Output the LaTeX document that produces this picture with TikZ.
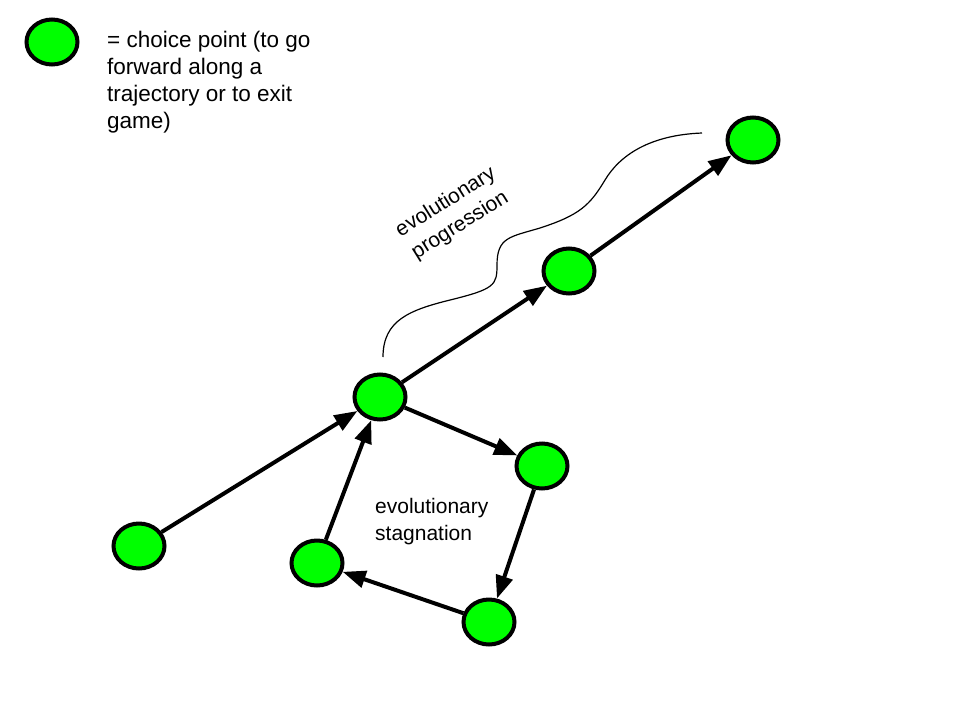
\documentclass[tikz,border=0pt]{standalone}
\usepackage{fontspec}
\setmainfont{Liberation Sans}
\usepackage{xcolor}
\usepackage{tikz}
\usetikzlibrary{arrows.meta,positioning,shapes}

\definecolor{choicegreen}{RGB}{0,255,0}
\tikzset{
  choice/.style={ellipse, draw, line width=4pt, fill=choicegreen, minimum width=51pt, minimum height=45pt, inner sep=0},
  move/.style={line width=4pt, -{Triangle[length=23pt, width=17pt]}}
}

\begin{document}
\begin{tikzpicture}[x=1pt, y=-1pt, font=\fontsize{21}{27}\selectfont]
\useasboundingbox (0, 0) rectangle (960, 720);
\node[choice] (key) at (52, 42) {};
\node[anchor=north west, align=left, inner sep=0, font=\fontsize{22.5}{27}\selectfont] (keytext) at (107, 31) {= choice point (to go\\forward along a\\trajectory or to exit\\game)};
\node[choice] (start) at (139, 546) {};
\node[choice] (hub) at (380, 397) {};
\node[choice] (loopa) at (542, 466) {};
\node[choice] (loopb) at (489, 622) {};
\node[choice] (loopc) at (317, 563) {};
\node[choice] (mid) at (569, 271) {};
\node[choice] (top) at (753, 140) {};
\draw[move] (start) -- (hub);
\draw[move] (hub) -- (loopa);
\draw[move] (loopa) -- (loopb);
\draw[move] (loopb) -- (loopc);
\draw[move] (loopc) -- (hub);
\draw[move] (hub) -- (mid);
\draw[move] (mid) -- (top);
\node[rotate=32, align=center, inner sep=0] (progtext) at (453, 214) {evolutionary\\progression};
\node[anchor=north west, align=left, inner sep=0] (stagtext) at (375, 498) {evolutionary\\stagnation};
\draw[line width=1.2pt] (383, 357) .. controls (383, 320) and (410, 310) .. (450, 300)
  .. controls (495, 289) and (497, 285) .. (497, 265)
  .. controls (497, 237) and (510, 237) .. (540, 228)
  .. controls (580, 215) and (590, 205) .. (605, 180)
  .. controls (620, 155) and (650, 135) .. (702, 133);
\end{tikzpicture}
\end{document}
